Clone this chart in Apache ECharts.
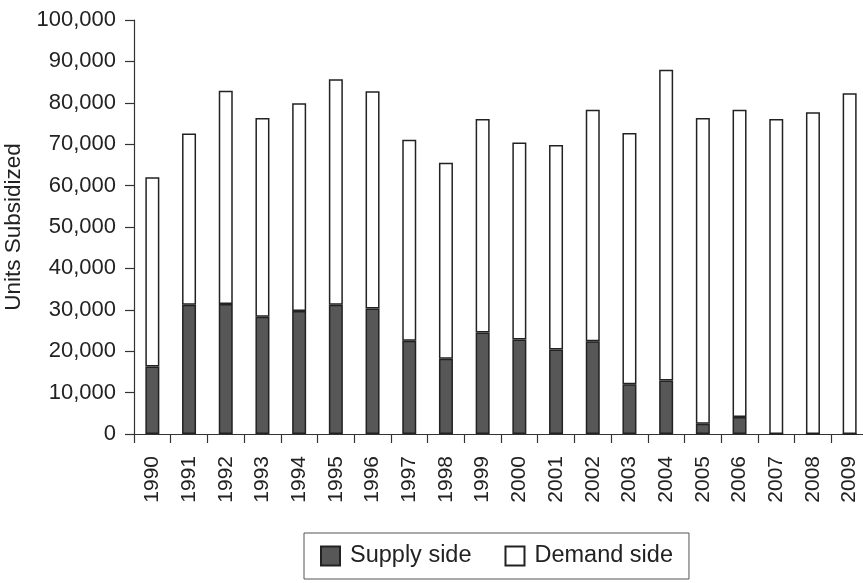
<!DOCTYPE html>
<html>
<head>
<meta charset="utf-8">
<script src="https://cdn.jsdelivr.net/npm/echarts@6/dist/echarts.min.js"></script>
<style>
html,body{margin:0;padding:0;background:#fff;}
#chart{width:863px;height:583px;}
</style>
</head>
<body>
<div id="chart"></div>
<script>
const years = ['1990','1991','1992','1993','1994','1995','1996','1997','1998','1999','2000','2001','2002','2003','2004','2005','2006','2007','2008','2009'];
const supplySide = [16300,31200,31400,28300,29700,31200,30300,22500,18200,24500,22800,20400,22400,12000,12900,2500,4100,0,0,0];
const demandSide = [45700,41400,51500,48000,50200,54500,52500,48600,47300,51600,47600,49400,55900,60700,75100,73800,74200,76100,77700,82300];
const yTicks = {min:0, max:100000, interval:10000};
const seriesNames = ['Supply side','Demand side'];

const FONT = '"Liberation Sans", Arial, sans-serif';
const TXT = '#222';
const chart = echarts.init(document.getElementById('chart'), null, {renderer:'canvas'});
chart.setOption({
  animation:false,
  backgroundColor:'#fff',
  grid:{left:134, width:734, top:20, bottom:149, containLabel:false, outerBoundsMode:'none'},
  legend:{
    data:seriesNames,
    left:304, top:533,
    orient:'horizontal',
    icon:'rect',
    itemWidth:19, itemHeight:19,
    itemGap:33,
    padding:[11,16,11,16],
    borderColor:'#555', borderWidth:1,
    textStyle:{fontFamily:FONT, fontSize:23.5, color:TXT, padding:[0,0,0,5]}
  },
  xAxis:{
    type:'category',
    data:years,
    boundaryGap:true,
    axisLine:{show:true, lineStyle:{color:'#333', width:1.2}},
    axisTick:{show:true, alignWithLabel:false, length:9, inside:false, lineStyle:{color:'#333', width:1.2}},
    axisLabel:{rotate:90, margin:22, fontFamily:FONT, fontSize:21, color:TXT},
    splitLine:{show:false}
  },
  yAxis:{
    type:'value',
    min:yTicks.min, max:yTicks.max, interval:yTicks.interval,
    name:'Units Subsidized',
    nameLocation:'middle',
    nameGap:106,
    nameTextStyle:{fontFamily:FONT, fontSize:22.5, color:TXT},
    axisLine:{show:true, lineStyle:{color:'#333', width:1.2}},
    axisTick:{show:true, length:9, lineStyle:{color:'#333', width:1.2}},
    axisLabel:{margin:18, fontFamily:FONT, fontSize:22, color:TXT,
      formatter:function(v){return v.toLocaleString('en-US');}},
    splitLine:{show:false}
  },
  series:[
    {name:seriesNames[0], type:'bar', stack:'total', data:supplySide, barWidth:14,
     itemStyle:{color:'#575757', borderColor:'#222', borderWidth:1.5}},
    {name:seriesNames[1], type:'bar', stack:'total', data:demandSide, barWidth:14,
     itemStyle:{color:'#ffffff', borderColor:'#222', borderWidth:1.5}}
  ]
});
</script>
</body>
</html>
